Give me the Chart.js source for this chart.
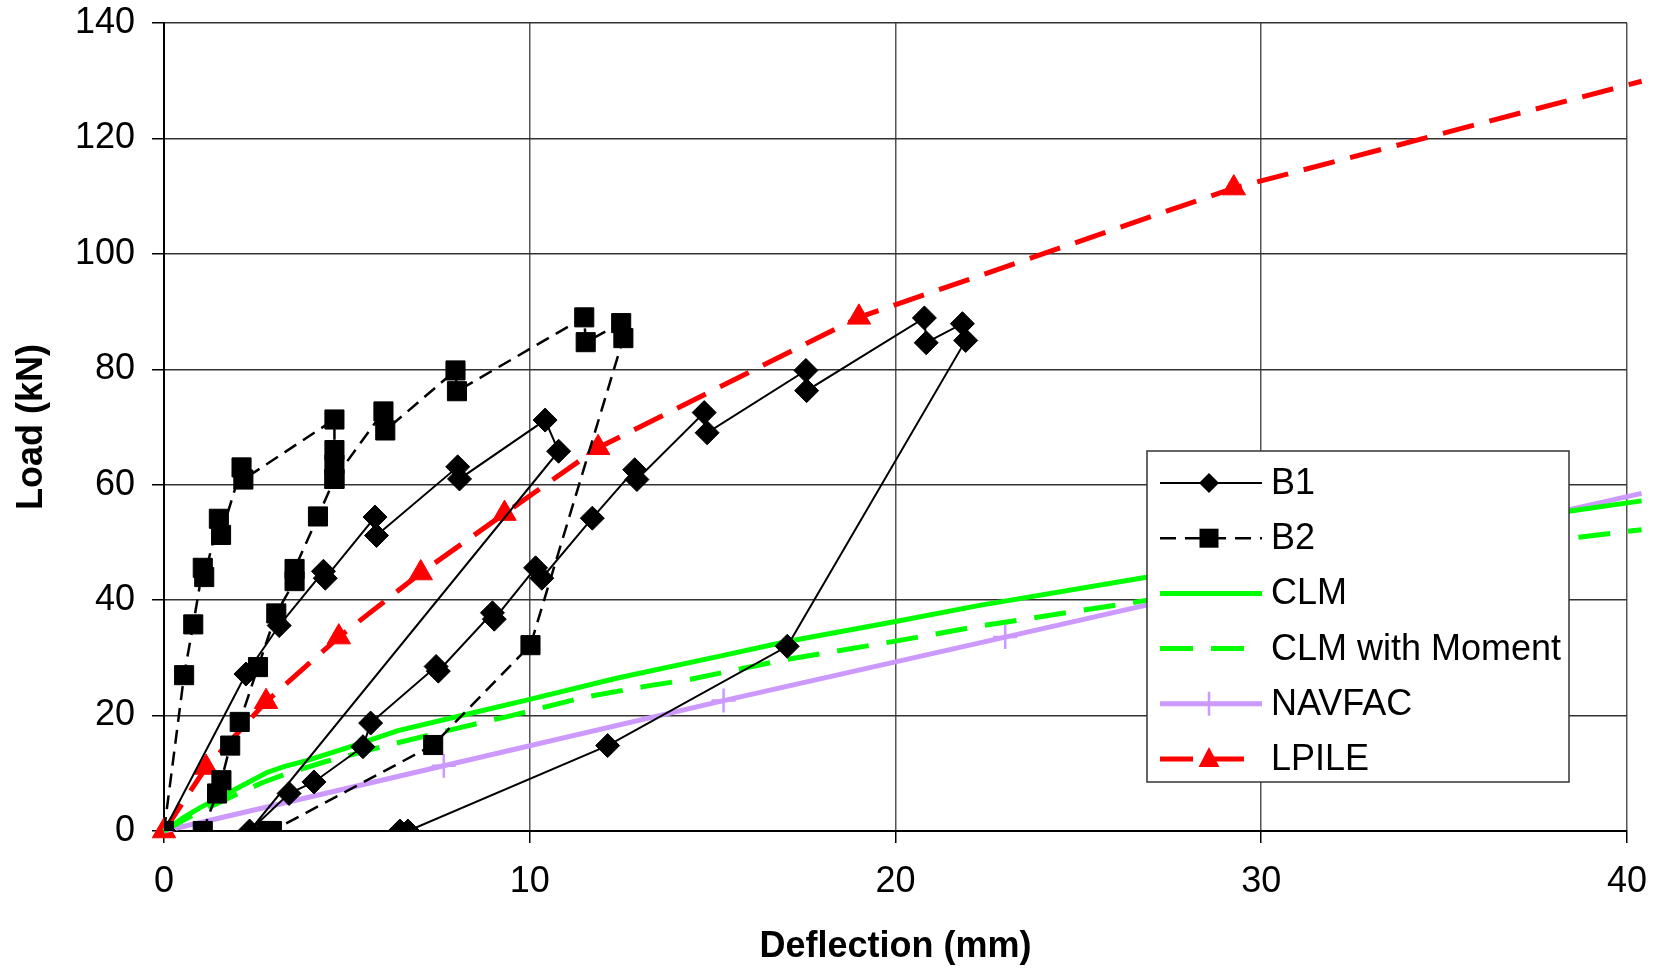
<!DOCTYPE html>
<html>
<head>
<meta charset="utf-8">
<title>Load - Deflection</title>
<script src="https://cdn.jsdelivr.net/npm/chart.js"></script>
<style>
  html, body { margin: 0; padding: 0; background: #fff; }
  #wrap { width: 1664px; height: 970px; }
</style>
</head>
<body>
<div id="wrap"><canvas id="chart" width="1664" height="970"></canvas></div>
<script>
// values: deflection (mm) / load (kN)
const b1Defl = [0, 2.24, 3.15, 4.36, 4.41, 5.77, 5.81, 8.03, 8.08, 10.42, 10.79,
                2.34, 3.42, 4.10, 5.44, 5.65, 7.44, 7.50, 8.98, 9.03, 10.16, 10.33, 11.71,
                12.87, 12.93, 14.77, 14.85, 17.55, 17.57, 20.79, 20.84, 21.83, 21.92,
                17.04, 12.13, 6.67, 6.45];
const b1Load = [0, 27.2, 35.6, 45.0, 43.8, 54.4, 51.2, 63.1, 61.0, 71.2, 65.8,
                0, 6.5, 8.5, 14.6, 18.7, 28.5, 27.7, 37.8, 36.7, 45.6, 43.8, 54.2,
                62.6, 60.9, 72.5, 69.0, 79.8, 76.3, 88.9, 84.6, 87.9, 85.0,
                32.0, 14.8, 0, 0];

// B2 has a break in the line (null) where no connecting segment is drawn
const b2Defl = [0, 0.55, 0.80, 1.06, 1.10, 1.50, 1.56, 2.12, 2.17, 4.66, 4.66, 4.66, 4.66,
                4.21, 3.57, 3.57, 3.07, 2.57, 2.07, 1.81, 1.57, 1.45, 1.06,
                4.66, 4.66, 6.00, 6.05, 7.97, 8.01, 11.49, 11.53, 12.50, 12.56,
                10.02, 7.36, 2.95, 2.82];
const b2Load = [0, 27.0, 35.8, 45.6, 44.0, 54.1, 51.3, 63.0, 60.9, 71.3, 66.0, 63.5, 61.0,
                54.5, 45.4, 43.3, 37.7, 28.4, 18.9, 14.8, 8.8, 6.5, 0,
                null, 61.0, 72.7, 69.4, 79.8, 76.2, 89.0, 84.7, 88.0, 85.4,
                32.2, 14.9, 0, 0];

const clmDefl = [0, 0.5, 1.0, 1.7, 2.3, 2.8, 3.3, 3.9, 5.0, 6.4, 8.4, 10, 12.4, 15.2, 17, 20, 22.3, 26.9, 30, 34, 38.5, 40.4];
const clmLoad = [0, 2.2, 4.1, 6.4, 8.4, 10.1, 11.2, 12.2, 14.4, 17.4, 20.4, 22.8, 26.5, 30.3, 32.8, 36.3, 39.1, 44.0, 47.3, 51.2, 55.5, 57.2];

const clmMomDefl = [0, 0.8, 1.4, 2.1, 2.7, 3.3, 4.4, 6.2, 8.15, 9.5, 11.5, 13.2, 14.4, 17, 20, 22.3, 26.9, 30, 34, 38.8, 40.4];
const clmMomLoad = [0, 2.8, 4.6, 6.7, 8.4, 9.8, 12.0, 15.0, 18.0, 20.0, 23.2, 25.1, 26.3, 29.7, 32.9, 35.5, 40.0, 43.0, 46.7, 51.0, 52.2];

const navfacDefl = [0, 7.65, 15.3, 23.0, 30.6, 38.3, 40.4];
const navfacLoad = [0, 11.3, 22.6, 33.6, 44.5, 55.5, 58.5];

const lpileDefl = [0, 1.15, 2.79, 4.78, 7.02, 9.31, 11.87, 19.0, 29.25, 40.4];
const lpileLoad = [0, 11.0, 22.4, 33.6, 44.7, 55.0, 66.4, 89.0, 111.4, 129.9];

const xTicks = [0, 10, 20, 30, 40];
const yTicks = [0, 20, 40, 60, 80, 100, 120, 140];
const seriesNames = ['B1', 'B2', 'CLM', 'CLM with Moment', 'NAVFAC', 'LPILE'];

const pts = (xs, ys) => xs.map((x, i) => ({ x: x, y: ys[i] }));

Chart.defaults.font.family = '"Liberation Sans", Arial, sans-serif';
Chart.defaults.color = '#000';

// draw one legend marker
function drawMarker(ctx, style, x, y, r, color) {
    ctx.fillStyle = color;
    ctx.strokeStyle = color;
    ctx.beginPath();
    if (style === 'rectRot') {
        ctx.moveTo(x - r, y); ctx.lineTo(x, y - r); ctx.lineTo(x + r, y); ctx.lineTo(x, y + r);
        ctx.closePath(); ctx.fill();
    } else if (style === 'rect') {
        ctx.rect(x - r, y - r, 2 * r, 2 * r); ctx.fill();
    } else if (style === 'triangle') {
        ctx.moveTo(x, y - r); ctx.lineTo(x + r * 0.87, y + r * 0.5 + 2); ctx.lineTo(x - r * 0.87, y + r * 0.5 + 2);
        ctx.closePath(); ctx.fill();
    } else if (style === 'cross') {
        ctx.lineWidth = 2.5;
        ctx.moveTo(x, y - r); ctx.lineTo(x, y + r);
        ctx.moveTo(x - r, y); ctx.lineTo(x + r, y);
        ctx.stroke();
    }
}

// Excel-like legend box sitting on top of the lines
const boxLegend = {
    id: 'boxLegend',
    afterDraw(chart) {
        const ctx = chart.ctx;
        const left = 1147, top = 451, w = 422, h = 331;
        ctx.save();
        ctx.fillStyle = '#fff';
        ctx.fillRect(left, top, w, h);
        ctx.strokeStyle = '#333';
        ctx.lineWidth = 1.5;
        ctx.strokeRect(left, top, w, h);

        chart.data.datasets.forEach((ds, i) => {
            const y = top + 32 + i * 55.2;
            ctx.save();
            ctx.beginPath();
            ctx.setLineDash(ds.legendDash || []);
            ctx.strokeStyle = ds.borderColor;
            ctx.lineWidth = ds.borderWidth;
            ctx.moveTo(1160, y);
            ctx.lineTo(1262, y);
            ctx.stroke();
            ctx.restore();
            if (ds.legendMarker) {
                drawMarker(ctx, ds.legendMarker, 1209, y, ds.legendSize, ds.legendMarkerColor || ds.borderColor);
            }
            ctx.fillStyle = '#000';
            ctx.font = '36px "Liberation Sans", Arial, sans-serif';
            ctx.textAlign = 'left';
            ctx.textBaseline = 'alphabetic';
            ctx.fillText(ds.label, 1271, y + 11);
        });
        ctx.restore();
    }
};

new Chart(document.getElementById('chart'), {
    type: 'line',
    data: {
        datasets: [
            {
                label: seriesNames[0],
                data: pts(b1Defl, b1Load),
                borderColor: '#000', borderWidth: 2,
                pointStyle: 'rectRot', pointRadius: 12,
                pointBackgroundColor: '#000', pointBorderColor: '#000', pointBorderWidth: 1,
                legendMarker: 'rectRot', legendSize: 10
            },
            {
                label: seriesNames[1],
                data: pts(b2Defl, b2Load),
                borderColor: '#000', borderWidth: 2.5, borderDash: [14, 8],
                pointStyle: 'rect', pointRadius: 13.5,
                pointBackgroundColor: '#000', pointBorderColor: '#000', pointBorderWidth: 1,
                legendDash: [16, 9], legendMarker: 'rect', legendSize: 9.5
            },
            {
                label: seriesNames[2],
                data: pts(clmDefl, clmLoad),
                borderColor: '#00ff00', borderWidth: 5,
                pointRadius: 0, clip: false
            },
            {
                label: seriesNames[3],
                data: pts(clmMomDefl, clmMomLoad),
                borderColor: '#00ff00', borderWidth: 5, borderDash: [32, 18],
                pointRadius: 0, clip: false,
                legendDash: [33, 18]
            },
            {
                label: seriesNames[4],
                data: pts(navfacDefl, navfacLoad),
                borderColor: '#cc99ff', borderWidth: 5,
                pointStyle: 'cross',
                pointRadius: c => (c.dataIndex === 0 || c.dataIndex === navfacDefl.length - 1) ? 0 : 12,
                pointBorderColor: '#cc99ff', pointBorderWidth: 2.5,
                clip: false,
                legendMarker: 'cross', legendSize: 12
            },
            {
                label: seriesNames[5],
                data: pts(lpileDefl, lpileLoad),
                borderColor: '#ff0000', borderWidth: 5, borderDash: [32, 16],
                pointStyle: 'triangle',
                pointRadius: c => c.dataIndex === lpileDefl.length - 1 ? 0 : 13.5,
                pointBackgroundColor: '#ff0000', pointBorderColor: '#ff0000', pointBorderWidth: 1,
                clip: false,
                legendDash: [33, 18], legendMarker: 'triangle', legendSize: 12
            }
        ]
    },
    options: {
        responsive: false,
        devicePixelRatio: 1,
        animation: false,
        events: [],
        layout: { padding: { left: 0, right: 37, top: 23, bottom: 0 } },
        plugins: {
            legend: { display: false },
            tooltip: { enabled: false }
        },
        scales: {
            x: {
                type: 'linear',
                min: 0, max: 40,
                afterBuildTicks: s => { s.ticks = xTicks.map(v => ({ value: v })); },
                ticks: { color: '#000', font: { size: 36 }, padding: 17, maxRotation: 0 },
                grid: { color: '#555', lineWidth: 1.5, tickLength: 12, tickColor: '#000', tickWidth: 1.5 },
                border: { display: true, color: '#000', width: 2 },
                title: {
                    display: true, text: 'Deflection (mm)', color: '#000',
                    font: { size: 36, weight: 'bold' }, padding: { top: 0, bottom: 1 }
                },
                afterFit: s => { s.height = 139; }
            },
            y: {
                type: 'linear',
                min: 0, max: 140,
                afterBuildTicks: s => { s.ticks = yTicks.map(v => ({ value: v })); },
                ticks: { color: '#000', font: { size: 36 }, padding: 17 },
                grid: { color: '#333', lineWidth: 1.5, tickLength: 12, tickColor: '#000', tickWidth: 1.5 },
                border: { display: true, color: '#000', width: 2 },
                title: {
                    display: true, text: 'Load (kN)', color: '#000',
                    font: { size: 36, weight: 'bold' }, padding: { top: 10, bottom: 0 }
                },
                afterFit: s => { s.width = 164; s.paddingTop = 0; s.paddingBottom = 0; }
            }
        }
    },
    plugins: [boxLegend]
});
</script>
</body>
</html>
